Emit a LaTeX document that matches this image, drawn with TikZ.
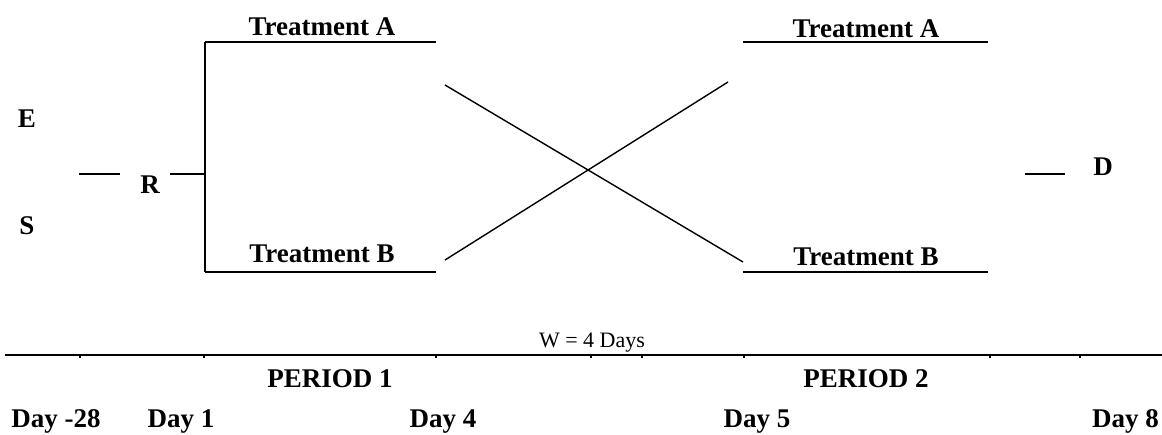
\documentclass[tikz,border=0pt]{standalone}
\usepackage{fontspec}
\setmainfont{Liberation Serif}
\begin{document}
\begin{tikzpicture}[x=1pt,y=-1pt,
  lbl/.style={font=\fontsize{27}{29}\selectfont\bfseries, inner sep=0pt, anchor=base},
  wlbl/.style={font=\fontsize{22}{24}\selectfont, inner sep=0pt, anchor=base},
  arm/.style={line width=2.4pt},
  cross/.style={line width=1.4pt},
  axis/.style={line width=1.6pt},
  tick/.style={line width=1.6pt}]
\useasboundingbox (0,0) rectangle (1162,434);
% left labels
\node[lbl] (E) at (27,127) {E};
\node[lbl] (S) at (27,234) {S};
\node[lbl] (R) at (150,193) {R};
\node[lbl] (D) at (1103,175) {D};
% coordinates
\coordinate (l1) at (79,174);
\coordinate (l2) at (120,174);
\coordinate (r1) at (170,174);
\coordinate (r2) at (205,174);
\coordinate (vt) at (205,42);
\coordinate (vb) at (205,272);
\coordinate (at1) at (436,42);
\coordinate (bt1) at (436,272);
\coordinate (at2a) at (743,42);
\coordinate (at2b) at (988,42);
\coordinate (bt2a) at (743,272);
\coordinate (bt2b) at (988,272);
\coordinate (c1s) at (445,85);
\coordinate (c1e) at (743,262);
\coordinate (c2s) at (445,260);
\coordinate (c2e) at (728,82);
\coordinate (d1) at (1025,174);
\coordinate (d2) at (1065,174);
\draw[arm] (l1) -- (l2);
\draw[arm] (r1) -- (r2);
\draw[arm] (vt) -- (vb);
\draw[arm] (vt) -- (at1);
\draw[arm] (vb) -- (bt1);
\draw[arm] (at2a) -- (at2b);
\draw[arm] (bt2a) -- (bt2b);
\draw[arm] (d1) -- (d2);
\draw[cross] (c1s) -- (c1e);
\draw[cross] (c2s) -- (c2e);
% treatment labels
\node[lbl] (TA1) at (322,35) {Treatment A};
\node[lbl] (TB1) at (322,262) {Treatment B};
\node[lbl] (TA2) at (866,37) {Treatment A};
\node[lbl] (TB2) at (866,265) {Treatment B};
% axis
\node[wlbl] (W) at (592,347) {W = 4 Days};
\coordinate (ax1) at (5,355);
\coordinate (ax2) at (1162,355);
\draw[axis] (ax1) -- (ax2);
\foreach \x in {80,204,436,591,642,744,990,1080}
  \draw[tick] (\x,355) -- (\x,358);
\node[lbl] (P1) at (330,387) {PERIOD 1};
\node[lbl] (P2) at (866,387) {PERIOD 2};
\node[lbl] (Dm28) at (56,427) {Day -28};
\node[lbl] (D1) at (181,427) {Day 1};
\node[lbl] (D4) at (443,427) {Day 4};
\node[lbl] (D5) at (757,427) {Day 5};
\node[lbl, anchor=base east] (D8) at (1159,427) {Day 8};
\end{tikzpicture}
\end{document}
